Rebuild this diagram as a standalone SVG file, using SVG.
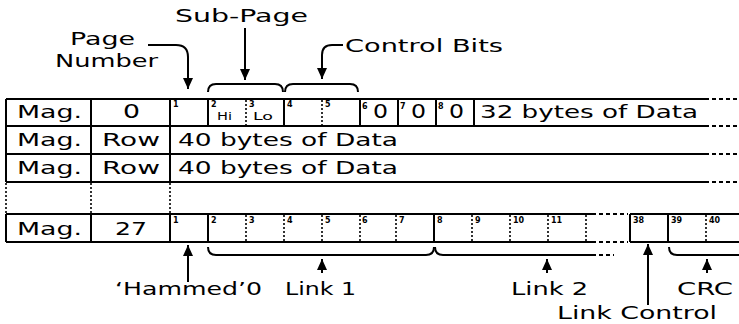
<svg xmlns="http://www.w3.org/2000/svg" width="739" height="324" viewBox="0 0 739 324">
<style>
text{font-family:"DejaVu Sans","Liberation Sans",sans-serif;fill:#000}
.t{font-size:17px}
.z{font-size:19px}
.n{font-size:8px;font-weight:bold}
.s{font-size:10px}
.ln{stroke:#000;stroke-width:2;fill:none}
.dot{stroke:#000;stroke-width:1.6;stroke-dasharray:2 2;fill:none}
.dash{stroke:#000;stroke-width:2;stroke-dasharray:4 3;fill:none}
.br{stroke:#000;stroke-width:2;fill:none}
.ar{stroke:#000;stroke-width:2;fill:none;marker-end:url(#ah)}
</style>
<defs>
<marker id="ah" markerUnits="userSpaceOnUse" markerWidth="12" markerHeight="12" refX="11" refY="6" orient="auto">
<path d="M0,1 L11,6 L0,11 Z" fill="#000"/>
</marker>
</defs>
<rect width="739" height="324" fill="#fff"/>

<g id="labels-top">
<text class="t" x="70" y="45" textLength="65" lengthAdjust="spacingAndGlyphs">Page</text>
<text class="t" x="55" y="67" textLength="103" lengthAdjust="spacingAndGlyphs">Number</text>
<text class="t" x="175" y="22" textLength="133" lengthAdjust="spacingAndGlyphs">Sub-Page</text>
<text class="t" x="345" y="52" textLength="158" lengthAdjust="spacingAndGlyphs">Control Bits</text>
</g>

<g id="row1">
<path class="ln" d="M6,99 H705 M6,126 H705 M6,99 V126 M91,99 V126 M170,99 V126 M208,99 V126 M284,99 V126 M360,99 V126 M398,99 V126 M436,99 V126 M474,99 V126"/>
<path class="dot" d="M246,100 V125 M322,100 V125"/>
<path class="dash" d="M705,99 H739 M705,126 H739"/>
<text class="t" x="17" y="118" textLength="65" lengthAdjust="spacingAndGlyphs">Mag.</text>
<text class="z" x="123" y="118" textLength="17" lengthAdjust="spacingAndGlyphs">0</text>
<text class="n" x="173" y="107">1</text>
<text class="n" x="211" y="107">2</text>
<text class="s" x="217" y="120" textLength="15" lengthAdjust="spacingAndGlyphs">Hi</text>
<text class="n" x="249" y="107">3</text>
<text class="s" x="253" y="120" textLength="20" lengthAdjust="spacingAndGlyphs">Lo</text>
<text class="n" x="287" y="107">4</text>
<text class="n" x="325" y="107">5</text>
<text class="n" x="362" y="109">6</text>
<text class="z" x="373" y="118" textLength="15" lengthAdjust="spacingAndGlyphs">0</text>
<text class="n" x="400" y="109">7</text>
<text class="z" x="411" y="118" textLength="15" lengthAdjust="spacingAndGlyphs">0</text>
<text class="n" x="438" y="109">8</text>
<text class="z" x="449" y="118" textLength="15" lengthAdjust="spacingAndGlyphs">0</text>
<text class="t" x="480" y="118" textLength="218" lengthAdjust="spacingAndGlyphs">32 bytes of Data</text>
</g>

<g id="row2">
<path class="ln" d="M6,154 H705 M6,126 V154 M91,126 V154 M170,126 V154"/>
<path class="dash" d="M705,154 H739"/>
<text class="t" x="17" y="146" textLength="65" lengthAdjust="spacingAndGlyphs">Mag.</text>
<text class="t" x="102" y="146" textLength="58" lengthAdjust="spacingAndGlyphs">Row</text>
<text class="t" x="178" y="146" textLength="220" lengthAdjust="spacingAndGlyphs">40 bytes of Data</text>
</g>

<g id="row3">
<path class="ln" d="M6,182 H705 M6,154 V182 M91,154 V182 M170,154 V182"/>
<path class="dash" d="M705,182 H739"/>
<text class="t" x="17" y="174" textLength="65" lengthAdjust="spacingAndGlyphs">Mag.</text>
<text class="t" x="102" y="174" textLength="58" lengthAdjust="spacingAndGlyphs">Row</text>
<text class="t" x="178" y="174" textLength="220" lengthAdjust="spacingAndGlyphs">40 bytes of Data</text>
</g>

<g id="gap">
<path class="dot" d="M6,183 V213 M91,183 V213 M170,183 V213"/>
</g>

<g id="row4">
<path class="ln" d="M6,214 H592 M6,242 H592 M630,214 H739 M630,242 H739 M6,214 V242 M91,214 V242 M170,214 V242 M208,214 V242 M434,214 V242 M630,214 V242 M668,214 V242"/>
<path class="dash" d="M592,214 H628 M592,242 H628"/>
<path class="dot" d="M246,215 V241 M284,215 V241 M322,215 V241 M360,215 V241 M396,215 V241 M472,215 V241 M510,215 V241 M548,215 V241 M586,215 V241 M706,215 V241"/>
<text class="t" x="17" y="235" textLength="65" lengthAdjust="spacingAndGlyphs">Mag.</text>
<text class="t" x="115" y="235" textLength="32" lengthAdjust="spacingAndGlyphs">27</text>
<text class="n" x="173" y="223">1</text>
<text class="n" x="211" y="223">2</text>
<text class="n" x="249" y="223">3</text>
<text class="n" x="287" y="223">4</text>
<text class="n" x="325" y="223">5</text>
<text class="n" x="362" y="223">6</text>
<text class="n" x="399" y="223">7</text>
<text class="n" x="437" y="223">8</text>
<text class="n" x="475" y="223">9</text>
<text class="n" x="513" y="223">10</text>
<text class="n" x="551" y="223">11</text>
<text class="n" x="633" y="223">38</text>
<text class="n" x="671" y="223">39</text>
<text class="n" x="709" y="223">40</text>
</g>

<g id="labels-bottom">
<text class="t" x="115" y="295" textLength="147" lengthAdjust="spacingAndGlyphs">‘Hammed’0</text>
<text class="t" x="285" y="295" textLength="71" lengthAdjust="spacingAndGlyphs">Link 1</text>
<text class="t" x="511" y="295" textLength="77" lengthAdjust="spacingAndGlyphs">Link 2</text>
<text class="t" x="677" y="295" textLength="56" lengthAdjust="spacingAndGlyphs">CRC</text>
<text class="t" x="557" y="319" textLength="160" lengthAdjust="spacingAndGlyphs">Link Control</text>
</g>

<g id="connectors">
<path class="ar" d="M148,45 H176 Q188,45 188,57 V89"/>
<path class="ar" d="M245,28 V80"/>
<path class="ar" d="M343,45 H332 Q322,45 322,55 V79"/>
<path class="br" d="M208,92 Q208,84 216,84 H275 Q283,84 283,92"/>
<path class="br" d="M285,92 Q285,84 293,84 H350 Q358,84 358,92"/>
<path class="ar" d="M188,282 V245"/>
<path class="br" d="M208,247 Q208,255 216,255 H426 Q434,255 434,247"/>
<path class="ar" d="M322,273 V259"/>
<path class="br" d="M435,247 Q435,255 443,255 H592"/>
<path class="dash" d="M592,255 H614"/>
<path class="ar" d="M547,273 V259"/>
<path class="ar" d="M648,305 V244"/>
<path class="br" d="M669,247 Q669,255 677,255 H739"/>
<path class="ar" d="M707,273 V259"/>
</g>
</svg>
